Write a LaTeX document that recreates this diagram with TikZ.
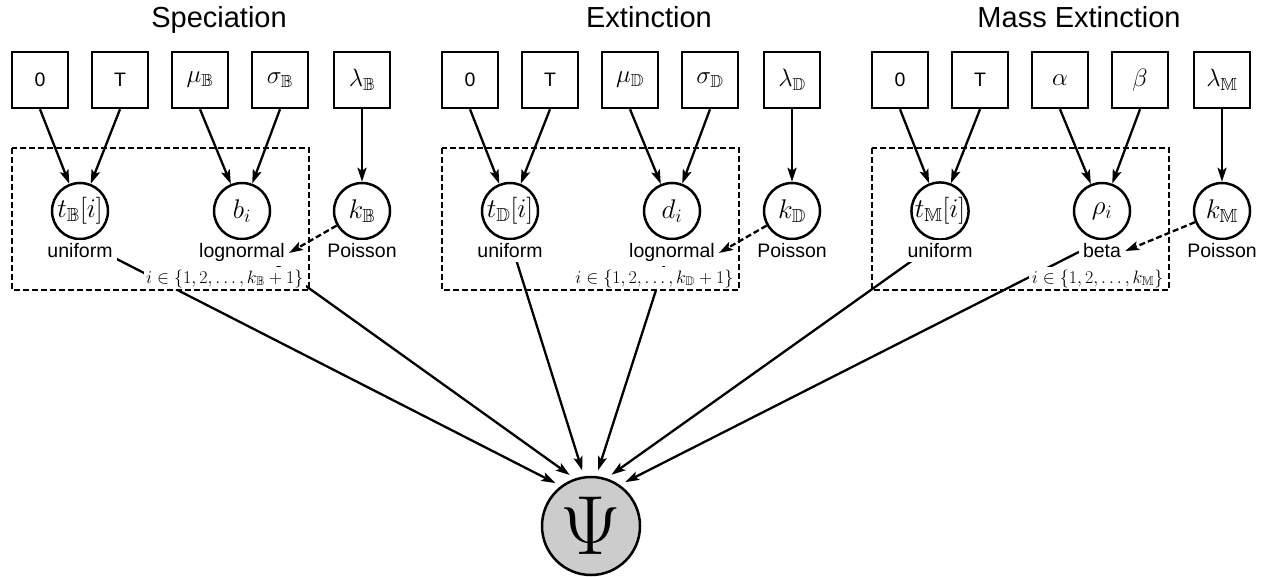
\RequirePackage{fix-cm}
\documentclass[tikz,border=0pt]{standalone}
\usepackage{amssymb}
\usepackage[no-math]{fontspec}
\newfontfamily\sff{Liberation Sans}
\usetikzlibrary{arrows.meta,backgrounds}
\DeclareFontFamily{U}{msb}{}
\DeclareFontShape{U}{msb}{m}{n}{<->msbm10}{}
\newcommand\lblf{\sff\fontsize{19.5}{23}\selectfont}
\newcommand\ttlf{\sff\fontsize{29}{34}\selectfont}
\newcommand\mthf{\fontsize{25}{29}\selectfont}
\newcommand\mthc{\fontsize{27}{31}\selectfont}
\newcommand\platef{\fontsize{18}{21}\selectfont}
\newcommand\psif{\fontsize{84}{94}\selectfont}
\begin{document}
\begin{tikzpicture}[x=1pt,y=-1pt,
  fixbox/.style={draw,line width=2.5pt,minimum width=56pt,minimum height=56pt,inner sep=0pt,fill=white,font=\lblf},
  rv/.style={draw,circle,line width=2.5pt,minimum size=56pt,inner sep=0pt,fill=white,font=\mthc},
  distlab/.style={fill=white,inner sep=4pt,font=\lblf,anchor=base},
  platelab/.style={fill=white,inner sep=2.5pt,font=\platef,anchor=base east},
  plate/.style={draw,line width=2.2pt,dash pattern=on 6pt off 3pt},
  titlelab/.style={font=\ttlf,anchor=base,inner sep=0pt},
  edge/.style={line width=2.3pt,-{Stealth[length=14pt,width=9pt,inset=3pt]}},
  dedge/.style={edge,dash pattern=on 6pt off 3pt},
  psinode/.style={draw,circle,line width=2.5pt,fill=gray!40,minimum size=98pt,inner sep=0pt,font=\psif}]
\useasboundingbox (0,0) rectangle (1265,577);

% ---------- titles
\node[titlelab] (sttl) at (219,28) {Speciation};
\node[titlelab] (ettl) at (649,28) {Extinction};
\node[titlelab] (mttl) at (1079,28) {Mass Extinction};

% ---------- Speciation
\node[fixbox] (s0)   at (40,80)  {0};
\node[fixbox] (sT)   at (120,80) {T};
\node[fixbox] (smu)  at (200,80) {\mthf$\mu_{\mathbb{B}}$};
\node[fixbox] (ssig) at (280,80) {\mthf$\sigma_{\mathbb{B}}$};
\node[fixbox] (slam) at (362,80) {\mthf$\lambda_{\mathbb{B}}$};
\node[rv] (st) at (80,211)  {$t_{\mathbb{B}}[i]$};
\node[rv] (sb) at (242,211) {$b_i$};
\node[rv] (sk) at (362,211) {$k_{\mathbb{B}}$};
\node[distlab] (sdt) at (80,258)  {uniform};
\node[distlab] (sdb) at (242,258) {lognormal};
\node[distlab] (sdk) at (362,258) {Poisson};
\node[platelab] (spl) at (306,283) {$i\in\{1,2,\ldots,k_{\mathbb{B}}+1\}$};
\draw[plate] (12,148) rectangle (309,290);

% ---------- Extinction
\node[fixbox] (e0)   at (470,80) {0};
\node[fixbox] (eT)   at (550,80) {T};
\node[fixbox] (emu)  at (630,80) {\mthf$\mu_{\mathbb{D}}$};
\node[fixbox] (esig) at (710,80) {\mthf$\sigma_{\mathbb{D}}$};
\node[fixbox] (elam) at (792,80) {\mthf$\lambda_{\mathbb{D}}$};
\node[rv] (et) at (510,211) {$t_{\mathbb{D}}[i]$};
\node[rv] (ed) at (672,211) {$d_i$};
\node[rv] (ek) at (792,211) {$k_{\mathbb{D}}$};
\node[distlab] (edt) at (510,258) {uniform};
\node[distlab] (edd) at (672,258) {lognormal};
\node[distlab] (edk) at (792,258) {Poisson};
\node[platelab] (epl) at (736,283) {$i\in\{1,2,\ldots,k_{\mathbb{D}}+1\}$};
\draw[plate] (442,148) rectangle (739,290);

% ---------- Mass Extinction
\node[fixbox] (m0)    at (900,80)  {0};
\node[fixbox] (mT)    at (980,80)  {T};
\node[fixbox] (malph) at (1060,80) {\mthf$\alpha$};
\node[fixbox] (mbeta) at (1140,80) {\mthf$\beta$};
\node[fixbox] (mlam)  at (1222,80) {\mthf$\lambda_{\mathbb{M}}$};
\node[rv] (mt) at (940,211)  {$t_{\mathbb{M}}[i]$};
\node[rv] (mr) at (1102,211) {$\rho_i$};
\node[rv] (mk) at (1222,211) {$k_{\mathbb{M}}$};
\node[distlab] (mdt) at (940,258)  {uniform};
\node[distlab] (mdr) at (1102,258) {beta};
\node[distlab] (mdk) at (1222,258) {Poisson};
\node[platelab] (mpl) at (1166,283) {$i\in\{1,2,\ldots,k_{\mathbb{M}}\}$};
\draw[plate] (872,148) rectangle (1169,290);

% ---------- Psi
\node[psinode] (psi) at (591,526) {$\Psi$};

% ---------- edges
\draw[edge] (s0.south) -- (st);
\draw[edge] (sT.south) -- (st);
\draw[edge] (smu.south) -- (sb);
\draw[edge] (ssig.south) -- (sb);
\draw[edge] (slam) -- (sk);
\draw[dedge] (sk) -- (sdb.east);

\draw[edge] (e0.south) -- (et);
\draw[edge] (eT.south) -- (et);
\draw[edge] (emu.south) -- (ed);
\draw[edge] (esig.south) -- (ed);
\draw[edge] (elam) -- (ek);
\draw[dedge] (ek) -- (edd.east);

\draw[edge] (m0.south) -- (mt);
\draw[edge] (mT.south) -- (mt);
\draw[edge] (malph.south) -- (mr);
\draw[edge] (mbeta.south) -- (mr);
\draw[edge] (mlam) -- (mk);
\draw[dedge] (mk) -- (mdr.east);

\begin{pgfonlayer}{background}
\draw[edge,shorten >=6pt] (st.south) -- (psi.127);
\draw[edge,shorten >=6pt] (sb.south) -- (psi.109);
\draw[edge,shorten >=6pt] (et.south) -- (psi.98);
\draw[edge,shorten >=6pt] (ed.south) -- (psi.84);
\draw[edge,shorten >=6pt] (mt.south) -- (psi.72);
\draw[edge,shorten >=6pt] (mr.south) -- (psi.55);
\end{pgfonlayer}
\end{tikzpicture}
\end{document}
